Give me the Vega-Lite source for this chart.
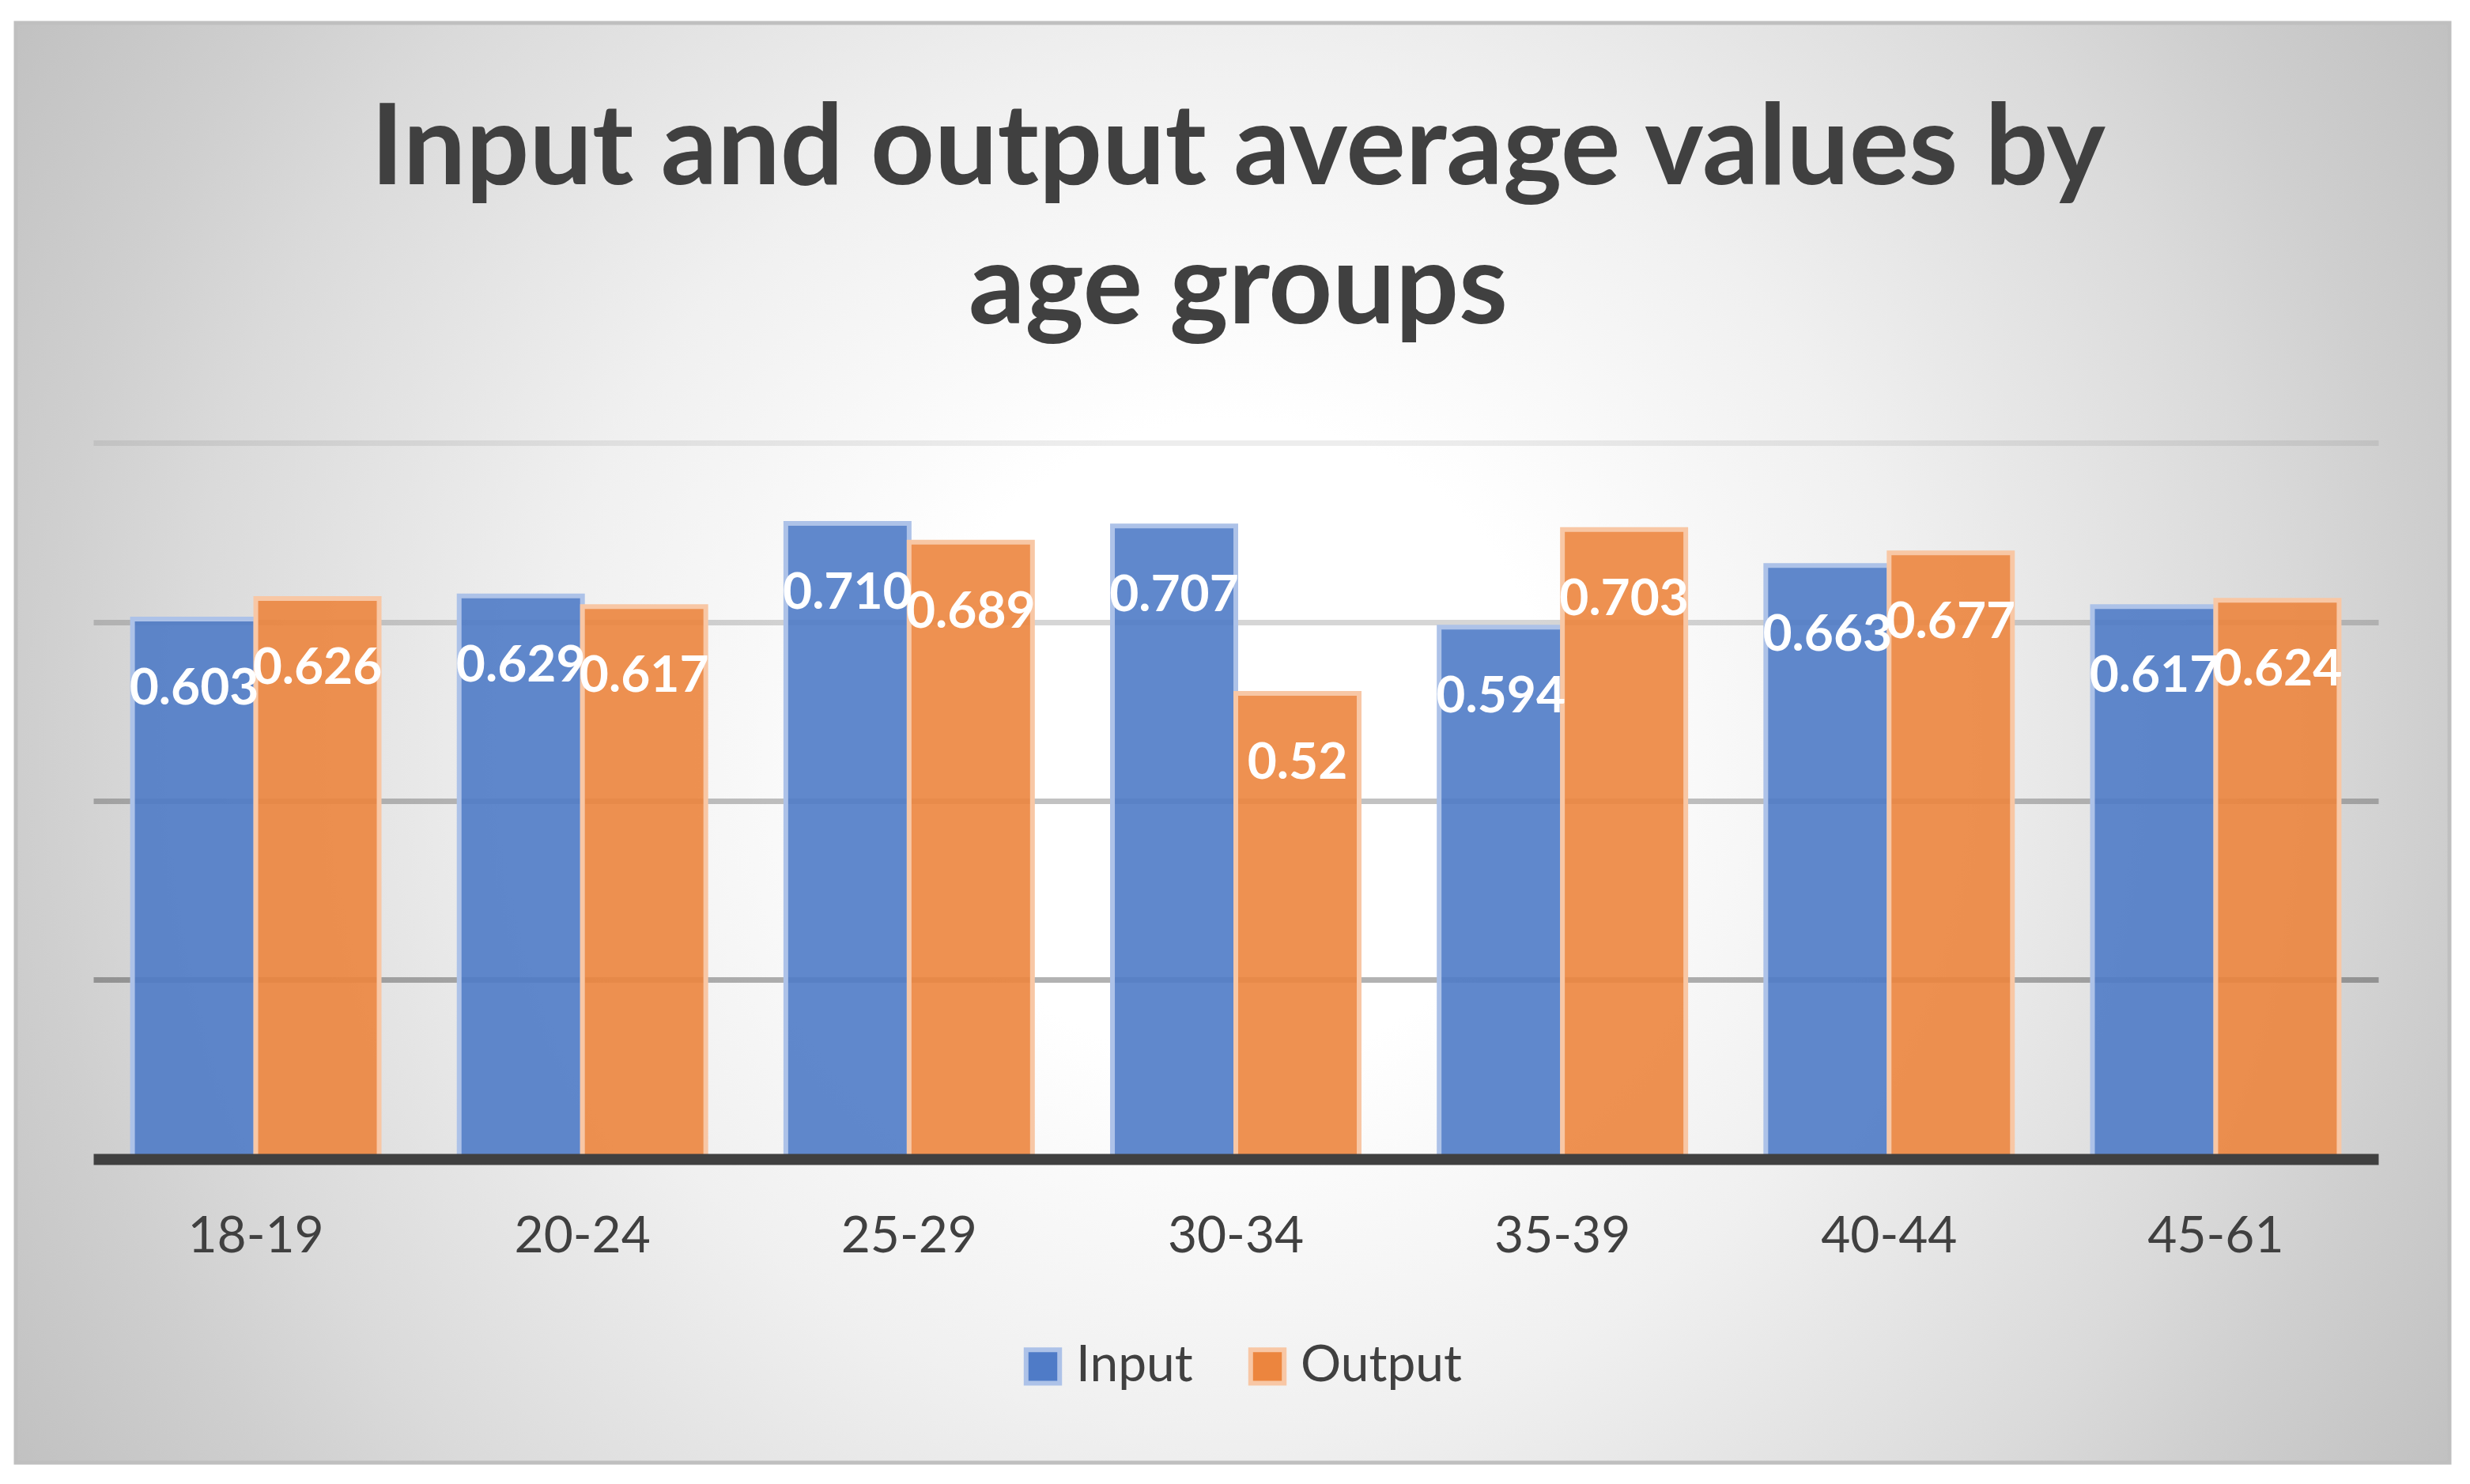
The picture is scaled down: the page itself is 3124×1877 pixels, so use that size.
{
  "$schema": "https://vega.github.io/schema/vega-lite/v6.json",
  "width": 3078,
  "height": 1821,
  "autosize": {"type": "none"},
  "padding": {"left": 20, "top": 29, "right": 26, "bottom": 27},
  "background": "#ffffff",
  "view": {
    "fill": {
      "gradient": "radial",
      "x1": 0.5, "y1": 0.5, "r1": 0,
      "x2": 0.5, "y2": 0.5, "r2": 0.6,
      "stops": [
        {"offset": 0, "color": "#ffffff"},
        {"offset": 0.22, "color": "#ffffff"},
        {"offset": 0.47, "color": "#f0f0f0"},
        {"offset": 0.72, "color": "#dadada"},
        {"offset": 0.82, "color": "#cfcfcf"},
        {"offset": 0.97, "color": "#c1c1c1"},
        {"offset": 1, "color": "#bfbfbf"}
      ]
    },
    "stroke": "#bfbfbf",
    "strokeWidth": 5
  },
  "title": {
    "text": ["Input and output average values by", "age groups"],
    "font": "Lato",
    "fontSize": 141,
    "fontWeight": "bold",
    "color": "#404040",
    "lineHeight": 176,
    "anchor": "middle",
    "frame": "group",
    "baseline": "alphabetic",
    "offset": -521,
    "dx": 7
  },
  "data": {
    "values": [
      {"age": "18-19", "series": "Input", "value": 0.603, "label": "0.603"},
      {"age": "18-19", "series": "Output", "value": 0.626, "label": "0.626"},
      {"age": "20-24", "series": "Input", "value": 0.629, "label": "0.629"},
      {"age": "20-24", "series": "Output", "value": 0.617, "label": "0.617"},
      {"age": "25-29", "series": "Input", "value": 0.710, "label": "0.710"},
      {"age": "25-29", "series": "Output", "value": 0.689, "label": "0.689"},
      {"age": "30-34", "series": "Input", "value": 0.707, "label": "0.707"},
      {"age": "30-34", "series": "Output", "value": 0.52, "label": "0.52"},
      {"age": "35-39", "series": "Input", "value": 0.594, "label": "0.594"},
      {"age": "35-39", "series": "Output", "value": 0.703, "label": "0.703"},
      {"age": "40-44", "series": "Input", "value": 0.663, "label": "0.663"},
      {"age": "40-44", "series": "Output", "value": 0.677, "label": "0.677"},
      {"age": "45-61", "series": "Input", "value": 0.617, "label": "0.617"},
      {"age": "45-61", "series": "Output", "value": 0.624, "label": "0.624"}
    ]
  },
  "encoding": {
    "x": {
      "field": "age",
      "type": "nominal",
      "sort": null,
      "scale": {"range": [98, 2988], "paddingInner": 0.245, "paddingOuter": 0.12},
      "axis": {
        "orient": "bottom",
        "offset": -384,
        "title": null,
        "labelAngle": 0,
        "labelFont": "Lato",
        "labelFontSize": 64,
        "labelColor": "#404040",
        "labelPadding": 66,
        "ticks": false,
        "tickSize": 0,
        "domainColor": "#404040",
        "domainWidth": 14,
        "domainCap": "butt",
        "grid": false,
        "zindex": 1
      }
    },
    "xOffset": {"field": "series", "type": "nominal", "sort": ["Input", "Output"]}
  },
  "layer": [
    {
      "mark": {"type": "bar", "strokeWidth": 6, "fillOpacity": 0.9},
      "encoding": {
        "y": {
          "field": "value",
          "type": "quantitative",
          "scale": {"domain": [-0.3391, 1.2689], "nice": false, "zero": false},
          "axis": {
            "values": [0.2, 0.4, 0.6, 0.8],
            "grid": true,
            "labels": false,
            "ticks": false,
            "domain": false,
            "title": null,
            "gridWidth": 7,
            "gridColor": {
              "condition": [
                {"test": "datum.value > 0.7", "value": "rgba(0,0,0,0.07)"},
                {"test": "datum.value > 0.5", "value": "rgba(0,0,0,0.16)"},
                {"test": "datum.value > 0.3", "value": "rgba(0,0,0,0.24)"}
              ],
              "value": "rgba(0,0,0,0.3)"
            },
            "zindex": 0
          }
        },
        "y2": {"datum": 0},
        "color": {
          "field": "series",
          "type": "nominal",
          "sort": ["Input", "Output"],
          "scale": {"domain": ["Input", "Output"], "range": ["#4F7BC7", "#EC853E"]},
          "legend": {
            "title": null,
            "orient": "none",
            "direction": "horizontal",
            "legendX": 1267,
            "legendY": 1667,
            "padding": 0,
            "symbolType": "square",
            "symbolSize": 1800,
            "symbolStrokeWidth": 6,
            "symbolOpacity": 1,
            "labelFont": "Lato",
            "labelFontSize": 64,
            "labelColor": "#404040",
            "labelOffset": 10,
            "labelLimit": 500,
            "columnPadding": 60
          }
        },
        "stroke": {
          "field": "series",
          "type": "nominal",
          "sort": ["Input", "Output"],
          "scale": {"domain": ["Input", "Output"], "range": ["#ADC2E8", "#F8C7A5"]}
        }
      }
    },
    {
      "mark": {
        "type": "text",
        "font": "Lato",
        "fontSize": 64,
        "fontWeight": "bold",
        "color": "#ffffff",
        "baseline": "top",
        "align": "center",
        "dy": 57
      },
      "encoding": {
        "y": {"field": "value", "type": "quantitative"},
        "text": {"field": "label", "type": "nominal"}
      }
    }
  ]
}
